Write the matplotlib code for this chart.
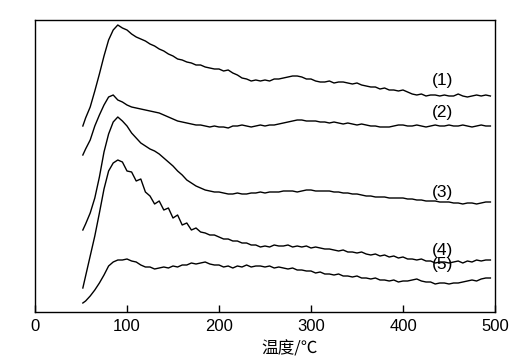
import matplotlib
matplotlib.use("Agg")
import matplotlib.pyplot as plt

# temperature points (°C)
temps = [52] + list(range(55, 500, 5))

# desorption signals (arbitrary units)
curve1 = [186, 194, 205, 221, 238, 256, 272, 282, 287, 284,
          282, 278, 275, 273, 271, 268, 266, 263, 261, 258,
          256, 253, 252, 250, 249, 247, 247, 245, 244, 243,
          243, 241, 242, 239, 237, 234, 233, 231, 232, 231,
          232, 231, 233, 233, 234, 235, 236, 236, 235, 233,
          233, 231, 230, 230, 231, 229, 230, 230, 229, 228,
          229, 227, 226, 225, 225, 223, 224, 222, 222, 221,
          222, 220, 218, 217, 218, 216, 217, 217, 216, 217,
          216, 216, 218, 216, 215, 216, 217, 216, 217, 216]
curve2 = [157, 163, 172, 186, 197, 207, 215, 217, 212, 210,
          207, 205, 204, 203, 202, 201, 200, 199, 197, 195,
          193, 191, 190, 189, 188, 187, 187, 186, 185, 186,
          185, 185, 184, 186, 186, 187, 186, 185, 186, 187,
          186, 187, 187, 188, 189, 190, 191, 192, 192, 191,
          191, 191, 190, 190, 189, 190, 189, 188, 189, 188,
          187, 188, 187, 186, 186, 185, 185, 185, 186, 187,
          187, 186, 186, 187, 186, 185, 186, 187, 186, 186,
          187, 186, 186, 187, 186, 185, 186, 187, 186, 186]
curve3 = [82, 88, 99, 114, 135, 160, 178, 190, 195, 191,
          186, 179, 174, 169, 166, 163, 161, 158, 154, 150,
          146, 141, 137, 132, 129, 126, 124, 122, 121, 120,
          120, 119, 118, 118, 119, 118, 118, 119, 119, 120,
          119, 120, 120, 120, 121, 121, 121, 120, 121, 122,
          122, 121, 121, 121, 121, 120, 120, 119, 119, 118,
          118, 117, 116, 116, 115, 115, 115, 114, 114, 114,
          114, 113, 113, 112, 112, 111, 111, 111, 110, 110,
          110, 109, 109, 108, 109, 109, 108, 109, 110, 110]
curve4 = [24, 36, 56, 76, 99, 123, 141, 149, 152, 150,
          141, 140, 131, 133, 120, 116, 108, 111, 102, 104,
          94, 97, 87, 89, 82, 84, 80, 79, 77, 77,
          75, 73, 73, 71, 71, 69, 69, 67, 67, 65,
          66, 65, 67, 66, 66, 67, 65, 66, 65, 66,
          64, 65, 64, 63, 63, 62, 61, 62, 60, 60,
          59, 60, 58, 57, 58, 56, 57, 55, 56, 54,
          55, 53, 53, 52, 53, 51, 51, 49, 50, 50,
          49, 50, 51, 49, 51, 50, 52, 51, 52, 52]
curve5 = [9, 11, 16, 22, 29, 37, 46, 50, 52, 52,
          53, 51, 50, 47, 45, 45, 43, 44, 45, 44,
          46, 45, 47, 47, 49, 48, 49, 50, 48, 47,
          47, 45, 46, 44, 46, 45, 47, 45, 46, 46,
          45, 46, 44, 45, 44, 43, 44, 42, 42, 41,
          41, 39, 40, 38, 38, 37, 38, 36, 36, 35,
          36, 34, 34, 33, 34, 32, 32, 31, 32, 30,
          31, 31, 32, 33, 31, 30, 30, 28, 29, 29,
          28, 29, 29, 30, 31, 32, 31, 33, 34, 34]

curves = [curve1, curve2, curve3, curve4, curve5]
labels = ["(1)", "(2)", "(3)", "(4)", "(5)"]
label_x = 443
label_y = [232, 199, 119, 62, 48]

fig = plt.figure(figsize=(5.29, 3.63), dpi=100)
ax = fig.add_axes([35 / 529, 1 - 312 / 363, 460 / 529, 292 / 363])

for c in curves:
    ax.plot(temps, c, color="black", lw=1.0)

for lab, ly in zip(labels, label_y):
    ax.text(label_x, ly, lab, ha="center", va="center", fontsize=12.5,
            family="Liberation Sans")

ax.set_xlim(0, 500)
ax.set_ylim(0, 292)
ax.set_xticks([0, 100, 200, 300, 400, 500])
ax.set_yticks([])
ax.tick_params(axis="x", direction="in", length=5, width=1, pad=5,
               labelsize=12)
for t in ax.get_xticklabels():
    t.set_family("Liberation Sans")
for s in ax.spines.values():
    s.set_linewidth(1)

ax.set_xlabel("温度/℃", fontsize=12, family=["Noto Sans CJK SC", "DejaVu Sans"])
ax.xaxis.set_label_coords((290 - 35) / 460, -(340 - 312) / 292)

fig.savefig("out.png", dpi=100)
plt.close(fig)
